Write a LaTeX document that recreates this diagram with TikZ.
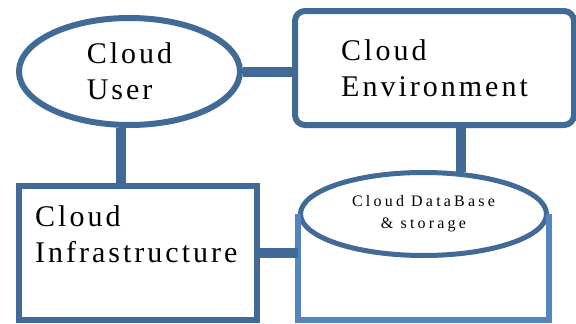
\documentclass[tikz,border=0pt]{standalone}
\usepackage{fontspec}
\setmainfont{Liberation Serif}
\newfontfamily\boxfont[LetterSpace=10]{Liberation Serif}
\newfontfamily\storefont[LetterSpace=20]{Liberation Serif}
\usetikzlibrary{shapes}
\definecolor{LineBlue}{RGB}{66,106,150}
\definecolor{SideBlue}{RGB}{85,133,192}
\tikzset{
    boxline/.style={draw=LineBlue, line width=6pt, fill=white, inner sep=0pt},
    link/.style={draw=LineBlue, line width=10pt},
    bigtext/.style={font=\boxfont\fontsize{30}{36}\selectfont, text=black, inner sep=0pt},
    smalltext/.style={font=\storefont\fontsize{16}{22}\selectfont, text=black, align=center}
}

\begin{document}
\begin{tikzpicture}[x=1pt,y=-1pt]
    \useasboundingbox (0,0) rectangle (576,324);

    \node[boxline, ellipse, minimum width=221pt, minimum height=107pt, bigtext, align=left] (user) at (129.5,71.5) {Cloud\\User};

    \node[boxline, rounded corners=10pt, minimum width=279pt, minimum height=114pt, bigtext, align=left] (env) at (434.5,68) {Cloud\\Environment};

    \node[boxline, minimum width=238pt, minimum height=134pt] (infra) at (138,253) {};
    \node[bigtext, align=left, anchor=north west] (infratext) at (35,205) {Cloud\\Infrastructure};

    \node[boxline, line width=5pt, ellipse, minimum width=246pt, minimum height=83pt, smalltext] (store) at (423.5,214) {Cloud DataBase\\\& storage};
    \coordinate (storebase) at (423.5,319.5);
    \draw[draw=SideBlue, line width=6pt] (store.west) -- (store.west |- storebase) -- (store.east |- storebase) -- (store.east);

    \draw[link] (user.east) -- (user.east -| env.west);
    \draw[link] (user.261) -- (user.261 |- infra.north);
    \draw[link] (env.south -| store.48) -- (store.48);
    \draw[link] (infra.east) -- (infra.east -| store.west);
\end{tikzpicture}
\end{document}
